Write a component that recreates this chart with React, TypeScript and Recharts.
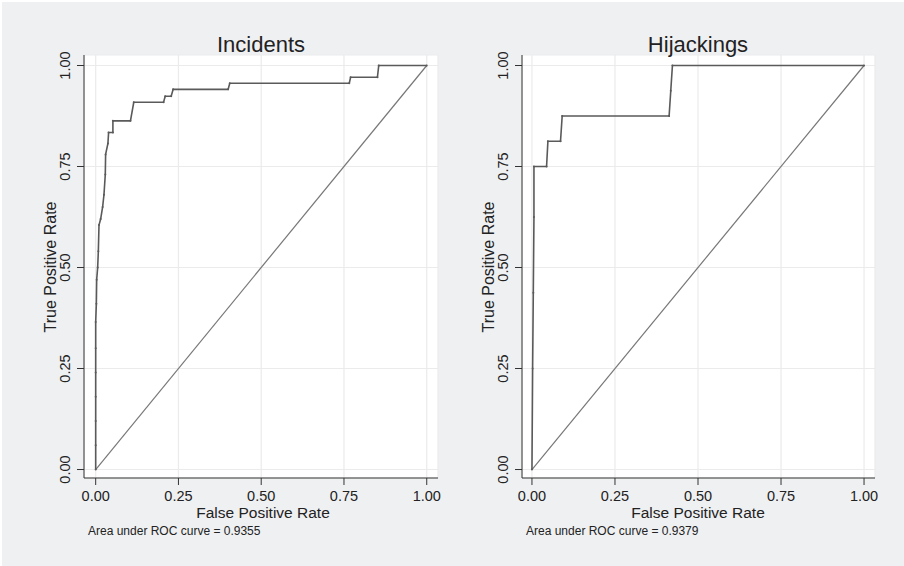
import { LineChart, Line, XAxis, YAxis, CartesianGrid } from "recharts";

// Incidents ROC curve (false positive rate, true positive rate)
const INCIDENTS_FPR = [
  0, 0, 0, 0, 0, 0, 0, 0.002, 0.003, 0.006, 0.008, 0.01, 0.015, 0.021, 0.025,
  0.029, 0.03, 0.037, 0.039, 0.052, 0.052, 0.105, 0.115, 0.205, 0.21, 0.228,
  0.234, 0.4, 0.405, 0.766, 0.77, 0.851, 0.855, 1.0,
];
const INCIDENTS_TPR = [
  0, 0.06, 0.12, 0.18, 0.24, 0.3, 0.365, 0.41, 0.47, 0.5, 0.54, 0.605, 0.62,
  0.65, 0.68, 0.73, 0.78, 0.807, 0.834, 0.834, 0.863, 0.863, 0.909, 0.909,
  0.924, 0.924, 0.941, 0.941, 0.956, 0.956, 0.971, 0.971, 1.0, 1.0,
];

// Hijackings ROC curve
const HIJACK_FPR = [
  0, 0.002, 0.004, 0.006, 0.006, 0.044, 0.048, 0.086, 0.091, 0.413, 0.418,
  0.423, 1.0,
];
const HIJACK_TPR = [
  0, 0.25, 0.4375, 0.625, 0.75, 0.75, 0.8125, 0.8125, 0.875, 0.875, 0.9375,
  1.0, 1.0,
];

const TICKS = [0, 0.25, 0.5, 0.75, 1];
const DIAGONAL = [
  { x: 0, y: 0 },
  { x: 1, y: 1 },
];

const FONT = "'Liberation Sans', Arial, Helvetica, sans-serif";
const BG = "#eff0f2";
const INK = "#222";

const toPoints = (fpr: number[], tpr: number[]) =>
  fpr.map((x, i) => ({ x, y: tpr[i] }));

const YTick = ({ x, y, payload }: any) => (
  <text
    x={x}
    y={y}
    transform={`rotate(-90 ${x} ${y})`}
    textAnchor="middle"
    fontSize={14.5}
    fontFamily={FONT}
    fill={INK}
  >
    {payload.value.toFixed(2)}
  </text>
);

const XTick = ({ x, y, payload }: any) => (
  <text x={x} y={y + 13.5} textAnchor="middle" fontSize={14.5} fontFamily={FONT} fill={INK}>
    {payload.value.toFixed(2)}
  </text>
);

interface PanelProps {
  left: number;
  data: { x: number; y: number }[];
  xDomain: [number, number];
  margin: { top: number; right: number; bottom: number; left: number };
}

const Panel = ({ left, data, xDomain, margin }: PanelProps) => (
  <div style={{ position: "absolute", left, top: 0 }}>
    <LineChart width={452} height={566} margin={margin}>
      <CartesianGrid fill="#ffffff" stroke="#ebebeb" strokeWidth={1.2} />
      <XAxis
        type="number"
        dataKey="x"
        domain={xDomain}
        allowDataOverflow
        ticks={TICKS}
        height={20}
        tickSize={7}
        tickMargin={2}
        stroke="#333"
        tick={<XTick />}
      />
      <YAxis
        type="number"
        dataKey="y"
        domain={[-0.021, 1.026]}
        allowDataOverflow
        ticks={TICKS}
        width={20}
        tickSize={7}
        tickMargin={7}
        stroke="#333"
        tick={<YTick />}
      />
      <Line
        data={DIAGONAL}
        dataKey="y"
        type="linear"
        stroke="#777"
        strokeWidth={1.2}
        dot={false}
        isAnimationActive={false}
      />
      <Line
        data={data}
        dataKey="y"
        type="linear"
        stroke="#5a5a5a"
        strokeWidth={1.6}
        dot={{ r: 1, fill: "#5a5a5a", stroke: "none" }}
        isAnimationActive={false}
      />
    </LineChart>
  </div>
);

const Texts = () => (
  <svg
    width={904}
    height={566}
    style={{ position: "absolute", left: 0, top: 0, pointerEvents: "none" }}
    fontFamily={FONT}
    fill={INK}
  >
    <text x={261} y={52} textAnchor="middle" fontSize={22}>Incidents</text>
    <text x={698} y={52} textAnchor="middle" fontSize={22}>Hijackings</text>
    <text x={263} y={518} textAnchor="middle" fontSize={15.5}>False Positive Rate</text>
    <text x={698} y={518} textAnchor="middle" fontSize={15.5}>False Positive Rate</text>
    <text x={88} y={535} fontSize={12}>Area under ROC curve = 0.9355</text>
    <text x={526} y={535} fontSize={12}>Area under ROC curve = 0.9379</text>
    <text x={56} y={267} textAnchor="middle" fontSize={16} transform="rotate(-90 56 267)">
      True Positive Rate
    </text>
    <text x={494} y={267} textAnchor="middle" fontSize={16} transform="rotate(-90 494 267)">
      True Positive Rate
    </text>
  </svg>
);

export default function App() {
  return (
    <div
      style={{
        position: "relative",
        width: 904,
        height: 566,
        background: BG,
        borderTop: "2px solid #fff",
        borderLeft: "2px solid #fff",
        boxSizing: "border-box",
        overflow: "hidden",
      }}
    >
      <style>{`body{margin:0}`}</style>
      <div style={{ position: "absolute", left: -2, top: -2, width: 904, height: 566 }}>
        <Panel
          left={0}
          data={toPoints(INCIDENTS_FPR, INCIDENTS_TPR)}
          xDomain={[-0.0353, 1.034]}
          margin={{ top: 55, right: 14, bottom: 68, left: 64 }}
        />
        <Panel
          left={452}
          data={toPoints(HIJACK_FPR, HIJACK_TPR)}
          xDomain={[-0.03, 1.033]}
          margin={{ top: 55, right: 29, bottom: 68, left: 50 }}
        />
        <Texts />
      </div>
    </div>
  );
}
